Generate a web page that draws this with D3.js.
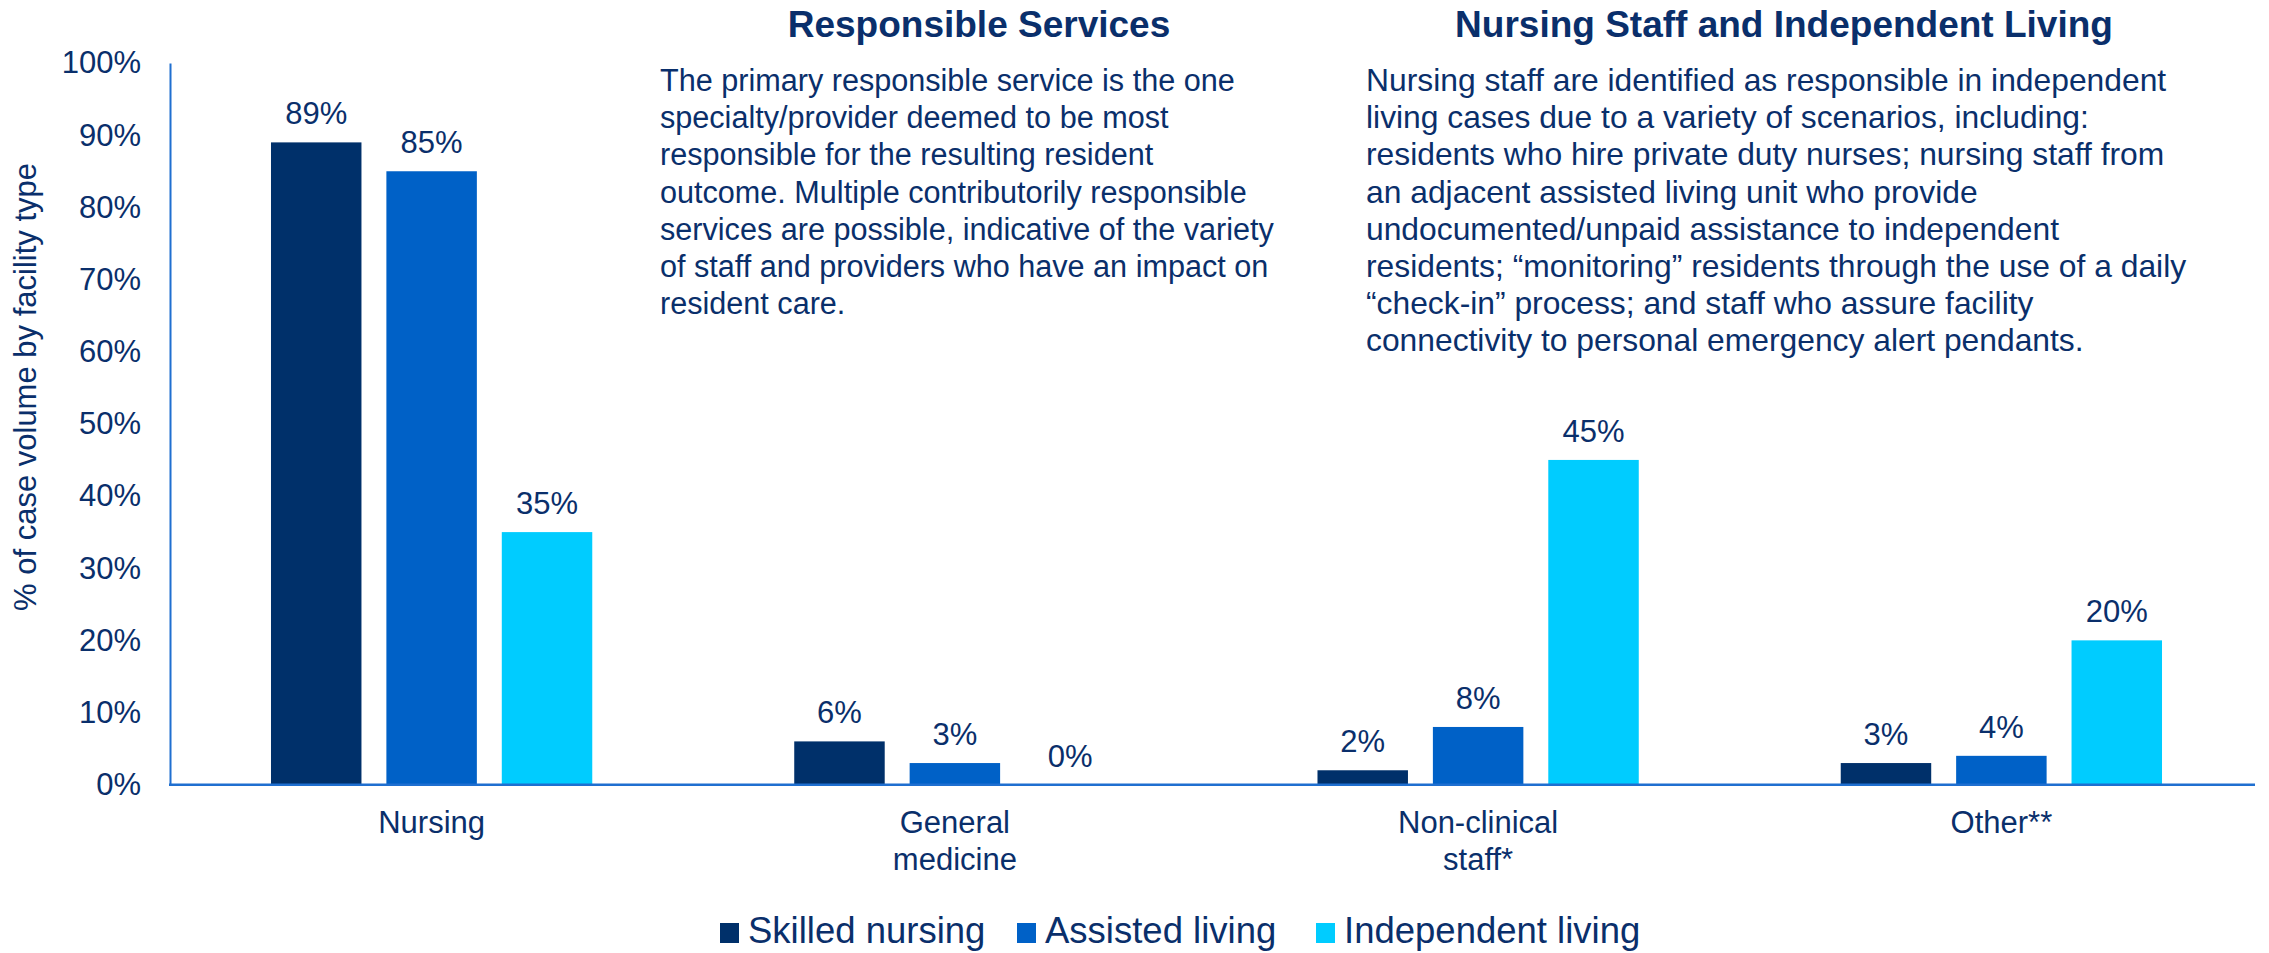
<!DOCTYPE html>
<html>
<head>
<meta charset="utf-8">
<script src="https://cdn.jsdelivr.net/npm/d3@7"></script>
<style>
  body { margin: 0; background: #fff; }
  svg text { font-family: "Liberation Sans", Arial, sans-serif; fill: #0a2f6b; }
</style>
</head>
<body>
<svg id="chart" width="2269" height="953"></svg>
<script>
// data
const categories = ["Nursing", "General medicine", "Non-clinical staff*", "Other**"];
const categoryLines = [["Nursing"], ["General", "medicine"], ["Non-clinical", "staff*"], ["Other**"]];
const seriesNames = ["Skilled nursing", "Assisted living", "Independent living"];
const skilledNursing = [89, 6, 2, 3];
const assistedLiving = [85, 3, 8, 4];
const independentLiving = [35, 0, 45, 20];
const yTicks = [0, 10, 20, 30, 40, 50, 60, 70, 80, 90, 100];

const leftTitle = "Responsible Services";
const leftNote = [
    "The primary responsible service is the one",
    "specialty/provider deemed to be most",
    "responsible for the resulting resident",
    "outcome. Multiple contributorily responsible",
    "services are possible, indicative of the variety",
    "of staff and providers who have an impact on",
    "resident care."
];
const rightTitle = "Nursing Staff and Independent Living";
const rightNote = [
    "Nursing staff are identified as responsible in independent",
    "living cases due to a variety of scenarios, including:",
    "residents who hire private duty nurses; nursing staff from",
    "an adjacent assisted living unit who provide",
    "undocumented/unpaid assistance to independent",
    "residents; \u201cmonitoring\u201d residents through the use of a daily",
    "\u201ccheck-in\u201d process; and staff who assure facility",
    "connectivity to personal emergency alert pendants."
];

const colors = ["#00306a", "#0061c7", "#00ccff"];
const series = [skilledNursing, assistedLiving, independentLiving];

let svg = d3.select("#chart");

let plotLeft = 170, plotRight = 2263, plotTop = 63, plotBottom = 784.7;

let x0 = d3.scaleBand()
    .domain(categories)
    .range([plotLeft, plotRight])
    .paddingInner(0.386)
    .paddingOuter(0.193);

let x1 = d3.scaleBand()
    .domain(seriesNames)
    .range([0, x0.bandwidth()])
    .paddingInner(0.216);

let y = d3.scaleLinear()
    .domain([0, 100])
    .range([plotBottom, plotTop]);

let color = d3.scaleOrdinal().domain(seriesNames).range(colors);

// bars
let groups = svg.append("g").selectAll("g")
    .data(categories)
    .enter().append("g")
    .attr("transform", d => "translate(" + x0(d) + ",0)");

groups.selectAll("rect")
    .data((d, i) => seriesNames.map((s, j) => ({ s: s, v: series[j][i] })))
    .enter().append("rect")
    .attr("x", d => x1(d.s))
    .attr("y", d => y(d.v))
    .attr("width", x1.bandwidth())
    .attr("height", d => plotBottom - y(d.v))
    .attr("fill", d => color(d.s));

groups.selectAll("text.val")
    .data((d, i) => seriesNames.map((s, j) => ({ s: s, v: series[j][i] })))
    .enter().append("text")
    .attr("class", "val")
    .attr("x", d => x1(d.s) + x1.bandwidth() / 2)
    .attr("y", d => y(d.v) - 18)
    .attr("text-anchor", "middle")
    .style("font-size", "31px")
    .text(d => d.v + "%");

// y axis
let yAxis = svg.append("g")
    .attr("transform", "translate(" + plotLeft + ",0)")
    .call(d3.axisLeft(y)
        .tickValues(yTicks)
        .tickSize(0)
        .tickSizeOuter(0)
        .tickPadding(29)
        .tickFormat(d => d + "%"));
yAxis.select(".domain").attr("stroke", "#1f6fd0").attr("stroke-width", 2);
yAxis.selectAll(".tick text")
    .style("font-size", "31px")
    .style("font-family", "'Liberation Sans', Arial, sans-serif")
    .attr("fill", "#0a2f6b");

// baseline
svg.append("line")
    .attr("x1", plotLeft - 1).attr("x2", 2255)
    .attr("y1", y(0)).attr("y2", y(0))
    .attr("stroke", "#1f6fd0")
    .attr("stroke-width", 2.5);

// category labels
categoryLines.forEach((lines, i) => {
    let t = svg.append("text")
        .attr("text-anchor", "middle")
        .style("font-size", "31px");
    lines.forEach((ln, k) => {
        t.append("tspan")
            .attr("x", x0(categories[i]) + x0.bandwidth() / 2)
            .attr("y", 833 + k * 37)
            .text(ln);
    });
});

// y axis title
svg.append("text")
    .attr("transform", "translate(36,387) rotate(-90)")
    .attr("text-anchor", "middle")
    .style("font-size", "31px")
    .text("% of case volume by facility type");

// annotations
function note(title, titleX, lines, textX, size) {
    svg.append("text")
        .attr("x", titleX).attr("y", 37)
        .attr("text-anchor", "middle")
        .style("font-size", "37px")
        .style("font-weight", "bold")
        .text(title);
    let t = svg.append("text").style("font-size", size + "px");
    lines.forEach((ln, k) => {
        t.append("tspan")
            .attr("x", textX)
            .attr("y", 91 + k * 37.2)
            .text(ln);
    });
}
note(leftTitle, 979, leftNote, 660, 30.6);
note(rightTitle, 1784, rightNote, 1366, 31.8);

// legend
let legendX = [720, 1017, 1316];
seriesNames.forEach((s, i) => {
    svg.append("rect")
        .attr("x", legendX[i]).attr("y", 923)
        .attr("width", 19).attr("height", 20)
        .attr("fill", color(s));
    svg.append("text")
        .attr("x", legendX[i] + 28).attr("y", 943)
        .style("font-size", "36.5px")
        .text(s);
});
</script>
</body>
</html>
